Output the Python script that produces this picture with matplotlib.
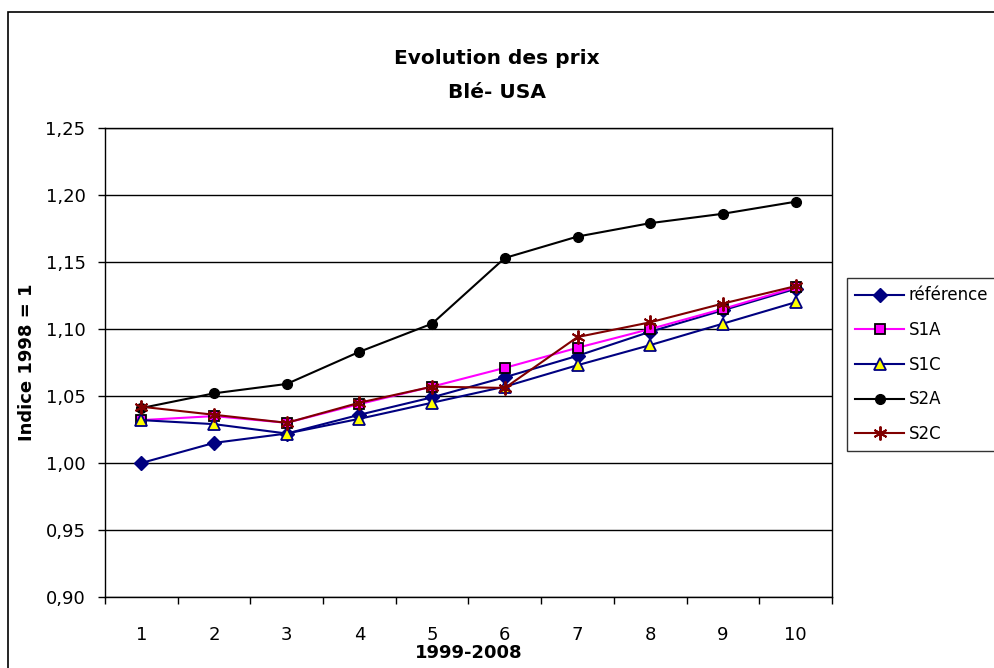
import matplotlib
matplotlib.use('Agg')
import matplotlib.pyplot as plt
from matplotlib.patches import Rectangle

plt.rcParams['font.family'] = ['DejaVu Sans']

# indices des prix du blé (USA), base 1998 = 1
annees = [1, 2, 3, 4, 5, 6, 7, 8, 9, 10]
reference = [1.000, 1.015, 1.022, 1.036, 1.049, 1.064, 1.080, 1.098, 1.114, 1.130]
s1a = [1.032, 1.035, 1.030, 1.044, 1.057, 1.071, 1.086, 1.100, 1.115, 1.131]
s1c = [1.032, 1.029, 1.022, 1.033, 1.045, 1.057, 1.073, 1.088, 1.104, 1.120]
s2a = [1.041, 1.052, 1.059, 1.083, 1.104, 1.153, 1.169, 1.179, 1.186, 1.195]
s2c = [1.042, 1.036, 1.030, 1.045, 1.057, 1.056, 1.094, 1.105, 1.119, 1.132]
y_ticks = [0.90, 0.95, 1.00, 1.05, 1.10, 1.15, 1.20, 1.25]

fig = plt.figure(figsize=(9.94, 6.68), dpi=100)
ax = fig.add_axes([105 / 994, 1 - 597 / 668, 727 / 994, 469 / 668])

# cadre extérieur du graphique
fig.patches.append(Rectangle((8 / 994, -0.1), 1.2, 1.1 - 12 / 668,
                             transform=fig.transFigure, fill=False,
                             edgecolor='black', linewidth=1.2))

ax.plot(annees, reference, color='#000080', lw=1.5, marker='D', ms=7,
        mfc='#000080', mec='#000080', label='référence')
ax.plot(annees, s1a, color='#FF00FF', lw=1.5, marker='s', ms=7.5,
        mfc='#FF00FF', mec='black', mew=1.3, label='S1A')
ax.plot(annees, s1c, color='#000080', lw=1.5, marker='^', ms=8.5,
        mfc='#FFFF00', mec='#000080', mew=1.3, label='S1C')
ax.plot(annees, s2a, color='black', lw=1.5, marker='o', ms=7,
        mfc='black', mec='black', label='S2A')
ax.plot(annees, s2c, color='#800000', lw=1.5, marker=(6, 2, 0), ms=10,
        mec='#800000', mew=1.4, label='S2C')

ax.set_xlim(0.5, 10.5)
ax.set_ylim(0.90, 1.25)
ax.set_yticks(y_ticks)
ax.set_yticklabels([f'{v:.2f}'.replace('.', ',') for v in y_ticks])
ax.set_xticks(annees)
ax.set_xticklabels([str(a) for a in annees])
ax.set_xticks([a + 0.5 for a in [0] + annees], minor=True)
ax.tick_params(axis='x', which='major', length=0, pad=21, labelsize=13)
ax.tick_params(axis='x', which='minor', length=5, direction='out', width=1)
ax.tick_params(axis='y', which='major', length=5, direction='out', width=1,
               pad=9, labelsize=13)
ax.grid(axis='y', color='black', lw=1)
ax.set_axisbelow(True)
for s in ax.spines.values():
    s.set_color('black')
    s.set_linewidth(1)

ax.set_xlabel('1999-2008', fontsize=13, fontweight='bold', labelpad=0)
ax.set_ylabel('Indice 1998 = 1', fontsize=13, fontweight='bold', labelpad=7)

fig.text(0.5, 1 - 64 / 668, 'Evolution des prix', ha='center', va='baseline',
         fontsize=14.5, fontweight='bold')
fig.text(0.5, 1 - 98 / 668, 'Blé- USA', ha='center', va='baseline',
         fontsize=14.5, fontweight='bold')

leg = ax.legend(loc='upper left', bbox_to_anchor=(847 / 994, 1 - 278 / 668),
                bbox_transform=fig.transFigure, fontsize=12, frameon=True,
                fancybox=False, edgecolor='black', handlelength=2.9,
                labelspacing=1.0, borderaxespad=0, handletextpad=0.3,
                borderpad=0.5)
leg.get_frame().set_linewidth(1)

fig.savefig('out.png', dpi=100)
